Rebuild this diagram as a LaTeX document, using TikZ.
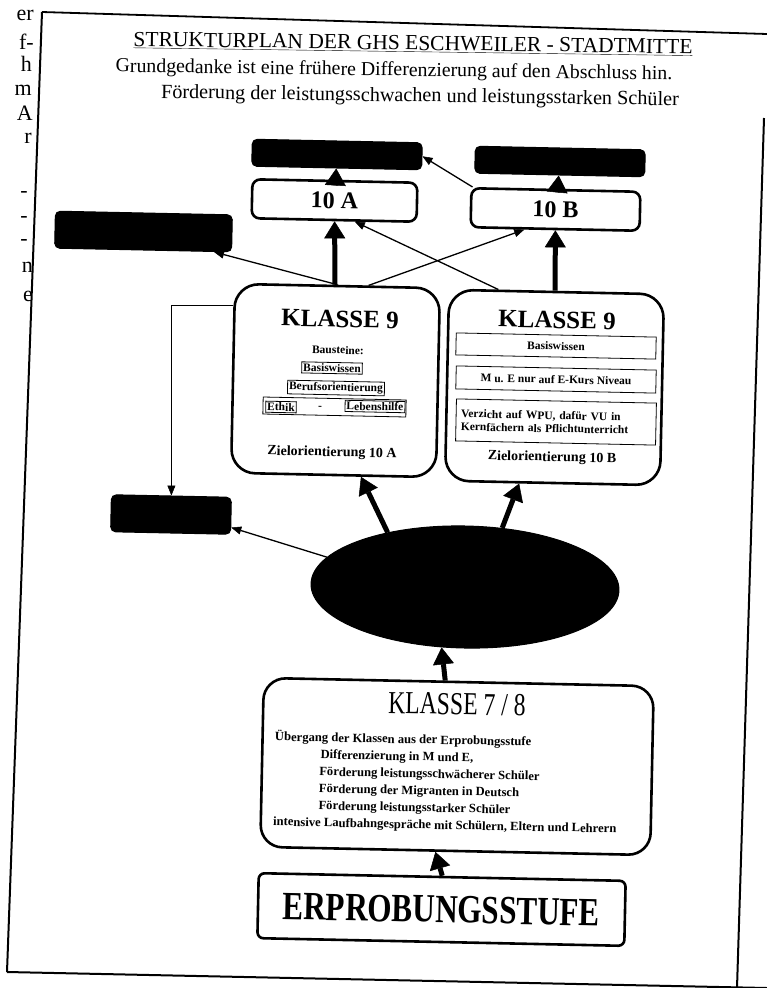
\documentclass[tikz,border=0pt]{standalone}
\usepackage{fontspec}
\setmainfont{Liberation Serif}
\newfontfamily\condA[FakeStretch=0.74]{Liberation Serif}
\newfontfamily\condB[FakeStretch=0.78]{Liberation Serif}
\usetikzlibrary{arrows.meta,shapes.geometric}
\tikzset{
  tilt/.style={rotate=-1.2},
  blk/.style={tilt, draw, fill=black, line width=1pt, rounded corners=5pt, inner sep=0pt},
  wbox/.style={tilt, draw, line width=2.6pt, rounded corners=#1, inner sep=0pt},
  thk/.style={line width=5pt, -{Triangle[width=21pt,length=17pt,line width=0.5pt]}},
  thn/.style={line width=1.3pt, -{Triangle[width=8pt,length=10pt,line width=0.5pt]}},
  txt/.style={tilt, inner sep=1pt},
  ttl/.style={rotate=-0.8, inner sep=0pt},
  sml/.style={txt, font=\bfseries\fontsize{11.5}{13}\selectfont, inner sep=1.5pt},
  frm/.style={draw, line width=0.8pt},
  ziel/.style={txt, font=\bfseries\fontsize{14}{16}\selectfont},
  kl/.style={txt, font=\bfseries\fontsize{25}{28}\selectfont},
  marg/.style={anchor=base east, inner sep=0pt, font=\fontsize{22}{25}\selectfont},
}
\begin{document}
\begin{tikzpicture}[x=1pt,y=-1pt]
\useasboundingbox (0,0) rectangle (767,988);
\clip (0,0) rectangle (767,988);
\fill[white] (0,0) rectangle (767,988);

% page frame (scanned, skewed)
\draw[line width=2pt] (42,12) -- (7,972);
\draw[line width=1.8pt] (42,12) -- (767,34);
\draw[line width=2pt] (7,972) -- (767,988);
\draw[line width=2pt] (764,118) -- (737,988);

% text of the neighbouring page, left margin
\node[marg] (m1) at (34,20) {er};
\node[marg] (m2) at (34,49) {f-};
\node[marg] (m3) at (32,71) {h};
\node[marg] (m4) at (32,95) {m};
\node[marg] (m5) at (33,120) {A};
\node[marg] (m6) at (32,143) {r};
\node[marg] (m7) at (28,197) {-};
\node[marg] (m8) at (28,222) {-};
\node[marg] (m9) at (28,245) {-};
\node[marg] (m10) at (33,272) {n};
\node[marg] (m11) at (33,301) {e};

% title
\node[ttl, font=\fontsize{21.5}{24}\selectfont] (t1) at (413,44) {\underline{STRUKTURPLAN DER GHS ESCHWEILER - STADTMITTE}};
\node[ttl, font=\fontsize{19.8}{22}\selectfont] (t2) at (394,71) {Grundgedanke ist eine frühere Differenzierung auf den Abschluss hin.};
\node[ttl, font=\fontsize{20.2}{22}\selectfont] (t3) at (420,97) {Förderung der leistungsschwachen und leistungsstarken Schüler};

% black boxes
\node[blk, minimum width=170pt, minimum height=27pt] (bTL) at (337,154.5) {};
\node[blk, minimum width=170pt, minimum height=27pt] (bTR) at (560,161.5) {};
\node[blk, minimum width=177pt, minimum height=37pt] (bLM) at (143.5,231.5) {};
\node[blk, minimum width=120pt, minimum height=37pt] (bBL) at (171,514.5) {};
\node[tilt, ellipse, fill=black, draw, line width=1pt, minimum width=308pt, minimum height=122pt, inner sep=0pt] (ell) at (465,587) {};

% 10 A / 10 B
\node[wbox=8pt, minimum width=165pt, minimum height=39pt, font=\bfseries\fontsize{24}{26}\selectfont] (b10A) at (334.5,200.5) {10 A};
\node[wbox=8pt, minimum width=169pt, minimum height=39pt, font=\bfseries\fontsize{24}{26}\selectfont] (b10B) at (555.5,209.5) {10 B};

% Klasse 9 left
\node[wbox=24pt, minimum width=205pt, minimum height=189pt] (k9L) at (335.5,380.5) {};
\node[kl] (k9Lt) at (340,319) {KLASSE 9};
\node[sml] (bst) at (338,350) {Bausteine:};
\node[sml, frm] (bsw) at (332,368) {Basiswissen};
\node[sml, frm] (bor) at (336,388) {Berufsorientierung};
\node[tilt, frm, minimum width=143pt, minimum height=17pt, inner sep=0pt] (erow) at (334.5,407) {};
\node[sml, frm] (eth) at (281,407) {Ethik};
\node[sml] (edash) at (320,407.5) {-};
\node[sml, frm] (leb) at (375,406.5) {Lebenshilfe};
\node[ziel] (zA) at (332,453) {Zielorientierung 10 A};

% Klasse 9 right
\node[wbox=24pt, minimum width=215pt, minimum height=191pt] (k9R) at (554.5,387.5) {};
\node[kl] (k9Rt) at (557,320) {KLASSE 9};
\node[sml, frm, minimum width=200pt, minimum height=22pt] (rbw) at (556,346) {Basiswissen};
\node[sml, frm, minimum width=200pt, minimum height=23pt] (rme) at (556,379.5) {M u. E nur auf E-Kurs Niveau};
\node[sml, frm, minimum width=200pt, minimum height=42pt, align=left, text width=190pt] (rvz) at (556,422) {Verzicht auf WPU, dafür VU in\\Kernfächern als Pflichtunterricht};
\node[ziel] (zB) at (552,458) {Zielorientierung 10 B};

% Klasse 7/8
\node[wbox=22pt, minimum width=390pt, minimum height=169pt] (k78) at (457,766.5) {};
\node[txt, font=\condA\fontsize{32}{36}\selectfont] (k78t) at (457,704) {KLASSE 7 / 8};
\node[tilt, anchor=north west, align=left, inner sep=0pt, font=\bfseries\fontsize{12.6}{17}\selectfont] (k78b) at (275,730) {Übergang der Klassen aus der Erprobungsstufe\\
\hspace*{46pt}Differenzierung in M und E,\\
\hspace*{45pt}Förderung leistungsschwächerer Schüler\\
\hspace*{45pt}Förderung der Migranten in Deutsch\\
\hspace*{45pt}Förderung leistungsstarker Schüler\\
intensive Laufbahngespräche mit Schülern, Eltern und Lehrern};

% Erprobungsstufe
\node[wbox=6pt, minimum width=367pt, minimum height=65pt, font=\condB\bfseries\fontsize{40}{44}\selectfont] (erp) at (441.5,909.5) {ERPROBUNGSSTUFE};

% thick connectors
\draw[thk] (b10A) -- (bTL);
\draw[thk] (b10B) -- (bTR);
\draw[thk] (k9L) -- (b10A);
\draw[thk] (k9R) -- (b10B);
\draw[thk] (ell.146) -- (k9L.-74);
\draw[thk] (ell.59) -- (k9R.251);
\draw[thk] (k78.99) -- (ell.250);
\draw[thk] (erp.north) -- (k78.257);

% thin connectors
\draw[thn] (k9L.north) -- (bLM.-15);
\draw[thn] (k9L.72) -- (b10B.214);
\draw[thn] (k9R.121.5) -- (b10A.-45);
\draw[thn] (b10B.166) -- (bTL.east);
\draw[thn] (k9L.145) -| (bBL.north);
\draw[thn] (ell.169) -- (bBL.-11);
\end{tikzpicture}
\end{document}
